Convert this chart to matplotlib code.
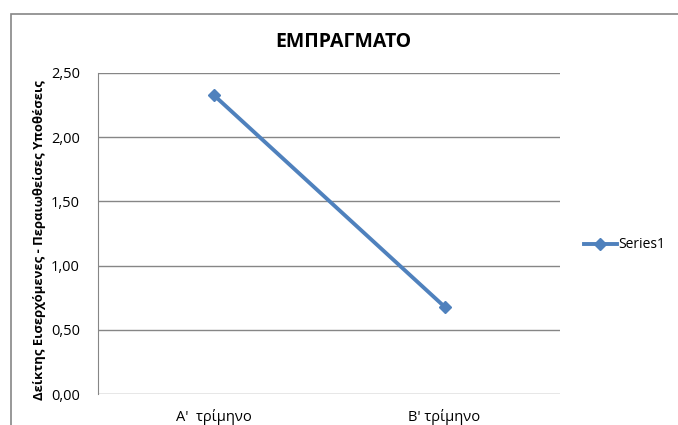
import matplotlib.pyplot as plt
from matplotlib.patches import Rectangle

# data
categories = ["Α'  τρίμηνο", "Β' τρίμηνο"]
values = [2.33, 0.68]
y_ticks = [0.0, 0.5, 1.0, 1.5, 2.0, 2.5]
y_tick_labels = ["0,00", "0,50", "1,00", "1,50", "2,00", "2,50"]

plt.rcParams['font.family'] = ['Open Sans', 'DejaVu Sans']

fig = plt.figure(figsize=(6.78, 4.25), dpi=100)
W, H = 678, 425

# outer chart frame (runs off the right/bottom edge like the screenshot)
fig.patches.append(Rectangle((11 / W, -0.05), 1.0, 1 - 14 / H + 0.05,
                             transform=fig.transFigure, fill=False,
                             edgecolor="#868686", linewidth=1.2))

ax = fig.add_axes([98 / W, 1 - 394 / H, (560 - 98) / W, (394 - 73) / H])

x = list(range(len(categories)))
ax.plot(x, values, color="#4F81BD", linewidth=2.8, marker="D", markersize=6,
        label="Series1")

ax.set_xlim(-0.5, len(categories) - 0.5)
ax.set_ylim(0, 2.5)
ax.set_yticks(y_ticks)
ax.set_yticklabels(y_tick_labels, fontsize=10.5)
ax.set_xticks(x)
ax.set_xticklabels(categories, fontsize=10.5)
ax.tick_params(axis="y", length=0, pad=13)
ax.tick_params(axis="x", length=0, pad=11)
ax.grid(axis="y", color="#868686", linewidth=1)
ax.set_axisbelow(True)
for s in ["top", "right", "bottom"]:
    ax.spines[s].set_visible(False)
ax.spines["left"].set_color("#868686")

ax.set_ylabel("Δείκτης Εισερχόμενες - Περαιωθείσες Υποθέσεις", fontsize=9.4,
              fontweight="bold")
ax.yaxis.set_label_coords(-0.113, 0.48)
fig.text(343 / W, 1 - 42 / H, "ΕΜΠΡΑΓΜΑΤΟ", ha="center", va="center",
         fontsize=14, fontweight="bold")

fig.legend(loc="center left", bbox_to_anchor=(578 / W, 1 - 245 / H),
           frameon=False, fontsize=10, handlelength=2.4, handletextpad=0.1,
           borderaxespad=0)

fig.savefig("out.png", dpi=100)
